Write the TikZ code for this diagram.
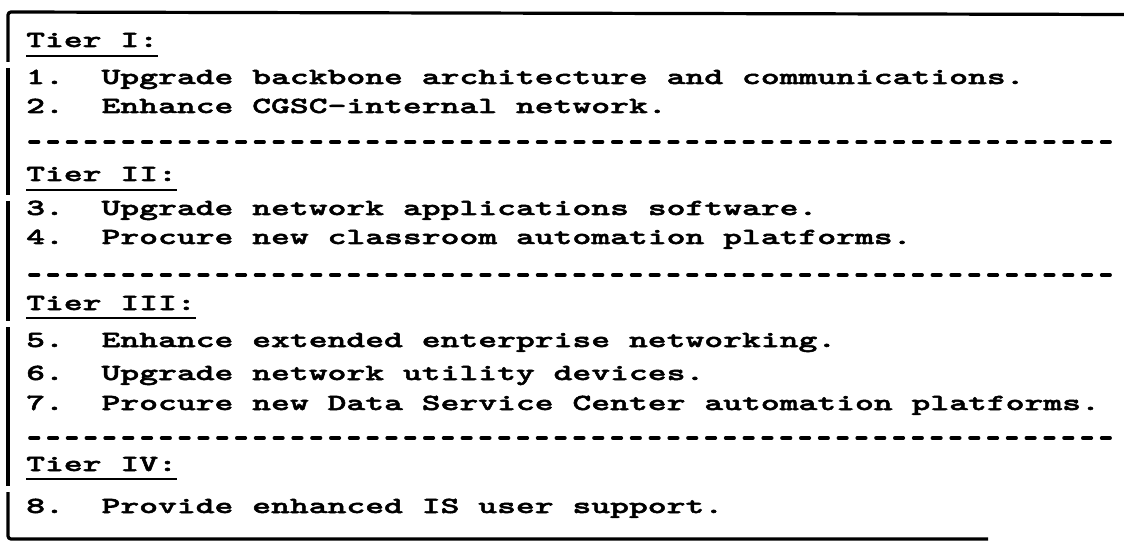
\documentclass[tikz,border=0pt]{standalone}
\usepackage{fontspec}
\newfontfamily\typerfont[FakeStretch=1.56, FakeBold=2.2]{lmmonolt10-bold.otf}
\usetikzlibrary{positioning}

\begin{document}
\begin{tikzpicture}[x=1pt, y=-1pt,
  row/.style={anchor=base west, inner sep=0pt, font=\fontsize{23}{23}\selectfont\typerfont},
  frameline/.style={line width=3.2pt, rounded corners=3pt},
  uline/.style={line width=2.6pt},
  sepline/.style={line width=3.6pt, dash pattern=on 8.5pt off 10.3pt, line cap=round}]
  \useasboundingbox (0,0) rectangle (1124,545);

  % Tier I
  \node[row] (tierI) at (26,47) {Tier I:};
  \node[row] (item1) at (26,84) {1.\ \ Upgrade backbone architecture and communications.};
  \node[row] (item2) at (26,113) {2.\ \ Enhance CGSC-internal network.};
  \draw[sepline] (30,142) -- (1112,142);

  % Tier II
  \node[row] (tierII) at (26,181) {Tier II:};
  \node[row] (item3) at (26,215) {3.\ \ Upgrade network applications software.};
  \node[row] (item4) at (26,244) {4.\ \ Procure new classroom automation platforms.};
  \draw[sepline] (30,275) -- (1112,275);

  % Tier III
  \node[row] (tierIII) at (26,310) {Tier III:};
  \node[row] (item5) at (26,347) {5.\ \ Enhance extended enterprise networking.};
  \node[row] (item6) at (26,380) {6.\ \ Upgrade network utility devices.};
  \node[row] (item7) at (26,410) {7.\ \ Procure new Data Service Center automation platforms.};
  \draw[sepline] (30,438) -- (1112,438);

  % Tier IV
  \node[row] (tierIV) at (26,471) {Tier IV:};
  \node[row] (item8) at (26,513) {8.\ \ Provide enhanced IS user support.};

  % underlines
  \draw[uline] ([yshift=-9pt]tierI.base west) -- ([yshift=-9pt]tierI.base east);
  \draw[uline] ([yshift=-9pt]tierII.base west) -- ([yshift=-9pt]tierII.base east);
  \draw[uline] ([yshift=-8pt]tierIII.base west) -- ([yshift=-8pt]tierIII.base east);
  \draw[uline] ([yshift=-8pt]tierIV.base west) -- ([yshift=-8pt]tierIV.base east);

  % frame, open on the right
  \draw[frameline] (1124,14.5) -- (8,12) -- (8,62);
  \draw[frameline] (8,68) -- (8,195);
  \draw[frameline] (8,201) -- (8,321);
  \draw[frameline] (8,327) -- (8,486);
  \draw[frameline] (8,492) -- (8,539) -- (988,539);
\end{tikzpicture}
\end{document}
